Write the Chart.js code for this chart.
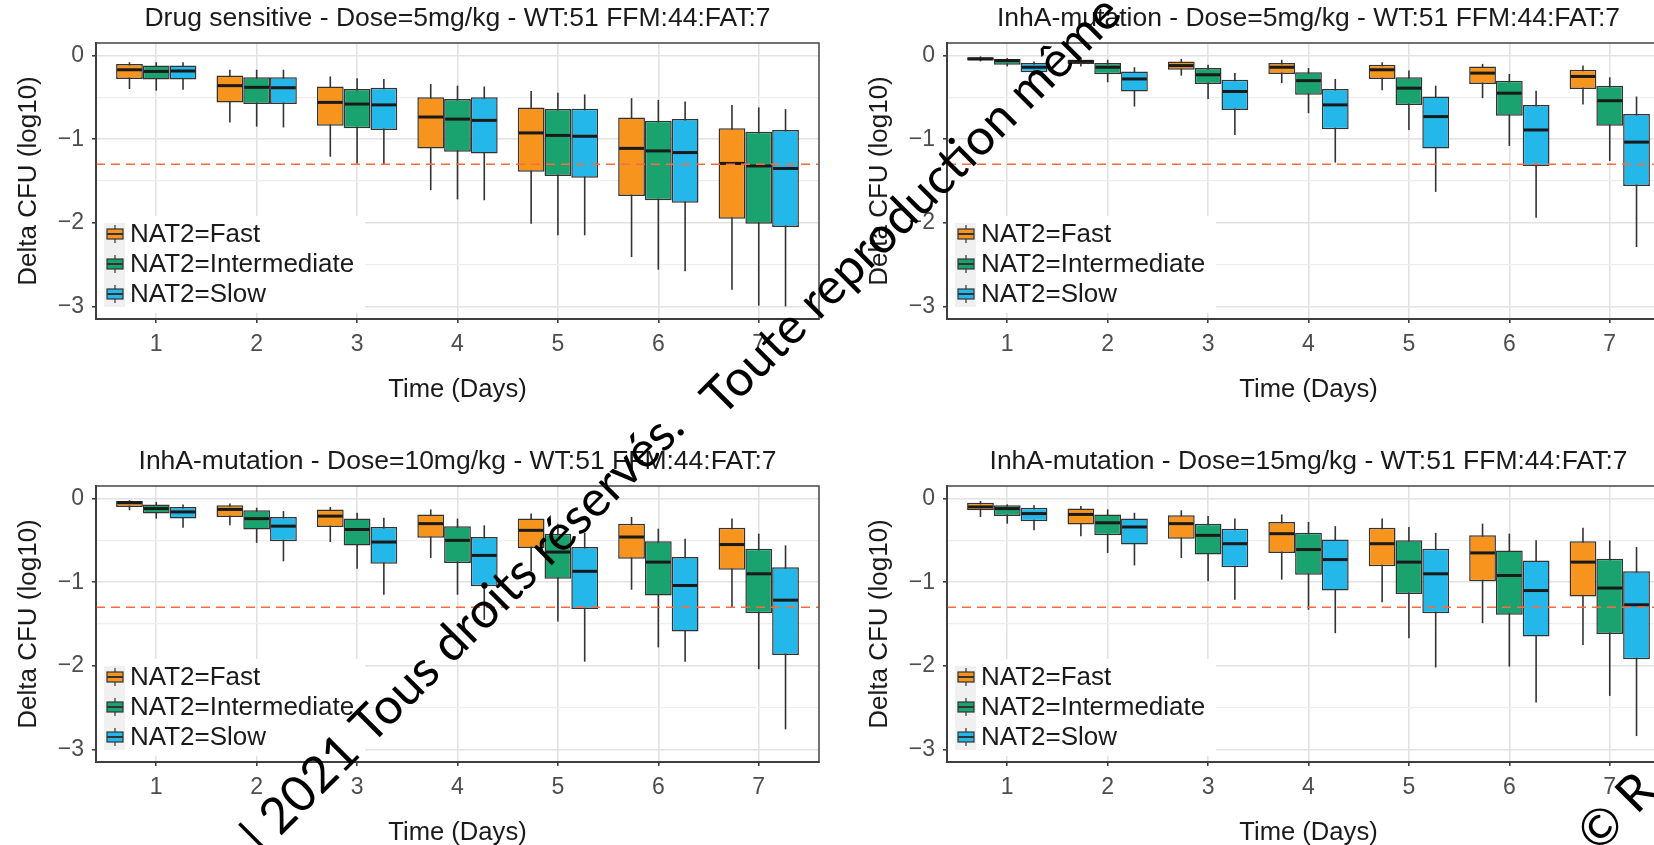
<!DOCTYPE html>
<html>
<head>
<meta charset="utf-8">
<script src="https://cdn.jsdelivr.net/npm/chart.js@4.4.0/dist/chart.umd.min.js"></script>
<style>
  body { margin: 0; background: #fff; width: 1654px; height: 845px; overflow: hidden; position: relative; }
  .panel { position: absolute; width: 845px; height: 420px; }
  #p1 { left: 0; top: 0; }
  #p2 { left: 851px; top: 0; }
  #p3 { left: 0; top: 443px; }
  #p4 { left: 851px; top: 443px; }
  #stamp { position: absolute; left: 0; top: 0; pointer-events: none; }
</style>
</head>
<body>
<canvas id="p1" class="panel" width="845" height="420"></canvas>
<canvas id="p2" class="panel" width="845" height="420"></canvas>
<canvas id="p3" class="panel" width="845" height="420"></canvas>
<canvas id="p4" class="panel" width="845" height="420"></canvas>
<canvas id="stamp" width="1654" height="845"></canvas>
<script>
const days = [1, 2, 3, 4, 5, 6, 7];
const groups = ['NAT2=Fast', 'NAT2=Intermediate', 'NAT2=Slow'];
const yTicks = [-3, -2.5, -2, -1.5, -1, -0.5, 0];
const cutoff = -1.3;
const titles = [
  'Drug sensitive - Dose=5mg/kg - WT:51 FFM:44:FAT:7',
  'InhA-mutation - Dose=5mg/kg - WT:51 FFM:44:FAT:7',
  'InhA-mutation - Dose=10mg/kg - WT:51 FFM:44:FAT:7',
  'InhA-mutation - Dose=15mg/kg - WT:51 FFM:44:FAT:7'
];

// each day: [lower whisker, Q1, median, Q3, upper whisker]
const sens5Fast  = [[-0.40,-0.28,-0.17,-0.10,-0.08], [-0.80,-0.56,-0.36,-0.24,-0.17], [-1.21,-0.84,-0.56,-0.37,-0.25], [-1.61,-1.11,-0.735,-0.50,-0.34], [-2.01,-1.39,-0.925,-0.62,-0.425], [-2.41,-1.68,-1.11,-0.74,-0.51], [-2.80,-1.95,-1.29,-0.87,-0.59]];
const sens5Inter = [[-0.42,-0.285,-0.19,-0.12,-0.08], [-0.85,-0.58,-0.38,-0.26,-0.17], [-1.29,-0.87,-0.58,-0.40,-0.27], [-1.72,-1.15,-0.76,-0.52,-0.36], [-2.15,-1.44,-0.955,-0.64,-0.445], [-2.56,-1.73,-1.14,-0.78,-0.53], [-2.99,-2.01,-1.32,-0.91,-0.62]];
const sens5Slow  = [[-0.41,-0.285,-0.185,-0.12,-0.08], [-0.86,-0.58,-0.385,-0.26,-0.17], [-1.30,-0.89,-0.59,-0.385,-0.28], [-1.73,-1.17,-0.775,-0.50,-0.37], [-2.15,-1.46,-0.965,-0.635,-0.465], [-2.58,-1.76,-1.16,-0.76,-0.55], [-3.00,-2.05,-1.35,-0.89,-0.64]];

const inh5Fast  = [[-0.07,-0.06,-0.04,-0.02,-0.01], [-0.13,-0.10,-0.07,-0.05,-0.03], [-0.24,-0.17,-0.12,-0.07,-0.04], [-0.33,-0.22,-0.14,-0.09,-0.05], [-0.415,-0.28,-0.17,-0.11,-0.08], [-0.51,-0.34,-0.21,-0.13,-0.10], [-0.585,-0.40,-0.25,-0.17,-0.12]];
const inh5Inter = [[-0.13,-0.11,-0.06,-0.04,-0.03], [-0.32,-0.225,-0.14,-0.09,-0.05], [-0.52,-0.34,-0.23,-0.15,-0.11], [-0.69,-0.47,-0.30,-0.20,-0.15], [-0.89,-0.59,-0.39,-0.26,-0.18], [-1.08,-0.72,-0.45,-0.30,-0.22], [-1.26,-0.84,-0.54,-0.36,-0.26]];
const inh5Slow  = [[-0.24,-0.20,-0.14,-0.09,-0.07], [-0.61,-0.43,-0.28,-0.19,-0.14], [-0.95,-0.65,-0.43,-0.29,-0.21], [-1.28,-0.88,-0.59,-0.40,-0.28], [-1.63,-1.11,-0.73,-0.49,-0.36], [-1.94,-1.32,-0.89,-0.59,-0.42], [-2.29,-1.56,-1.035,-0.70,-0.49]];

const inh10Fast  = [[-0.14,-0.10,-0.05,-0.03,-0.02], [-0.32,-0.22,-0.13,-0.08,-0.06], [-0.52,-0.34,-0.21,-0.13,-0.10], [-0.71,-0.47,-0.30,-0.19,-0.13], [-0.87,-0.59,-0.38,-0.24,-0.18], [-1.09,-0.72,-0.46,-0.30,-0.22], [-1.30,-0.85,-0.55,-0.35,-0.24]];
const inh10Inter = [[-0.24,-0.18,-0.12,-0.07,-0.04], [-0.53,-0.37,-0.24,-0.14,-0.11], [-0.84,-0.56,-0.37,-0.24,-0.17], [-1.15,-0.77,-0.50,-0.33,-0.24], [-1.47,-0.96,-0.64,-0.42,-0.30], [-1.78,-1.16,-0.76,-0.51,-0.36], [-2.04,-1.37,-0.90,-0.60,-0.42]];
const inh10Slow  = [[-0.35,-0.24,-0.16,-0.10,-0.07], [-0.75,-0.51,-0.33,-0.22,-0.15], [-1.15,-0.78,-0.52,-0.34,-0.23], [-1.45,-1.05,-0.68,-0.46,-0.32], [-1.95,-1.32,-0.87,-0.58,-0.41], [-1.95,-1.59,-1.04,-0.70,-0.48], [-2.76,-1.87,-1.215,-0.82,-0.56]];

const inh15Fast  = [[-0.22,-0.14,-0.10,-0.05,-0.03], [-0.45,-0.31,-0.19,-0.12,-0.09], [-0.71,-0.48,-0.30,-0.20,-0.14], [-0.97,-0.65,-0.42,-0.28,-0.19], [-1.24,-0.81,-0.54,-0.35,-0.24], [-1.49,-0.99,-0.65,-0.44,-0.30], [-1.75,-1.17,-0.76,-0.51,-0.35]];
const inh15Inter = [[-0.30,-0.21,-0.12,-0.08,-0.07], [-0.65,-0.44,-0.29,-0.19,-0.13], [-0.99,-0.67,-0.44,-0.30,-0.21], [-1.33,-0.91,-0.61,-0.41,-0.28], [-1.67,-1.14,-0.76,-0.50,-0.34], [-2.01,-1.39,-0.92,-0.62,-0.42], [-2.36,-1.62,-1.07,-0.72,-0.50]];
const inh15Slow  = [[-0.38,-0.27,-0.18,-0.11,-0.08], [-0.80,-0.55,-0.34,-0.24,-0.17], [-1.21,-0.82,-0.54,-0.36,-0.24], [-1.61,-1.10,-0.73,-0.49,-0.33], [-2.02,-1.37,-0.90,-0.60,-0.41], [-2.44,-1.65,-1.10,-0.74,-0.50], [-2.84,-1.92,-1.27,-0.87,-0.58]];

const FONT = '"Liberation Sans", Arial, Helvetica, sans-serif';
const fills = ['#F7941D', '#1BA36F', '#24B8EA'];
const minus = v => (v < 0 ? '\u2212' + (-v) : String(v));

// whiskers, medians, cut-off line, legend and frame drawn around the floating bars
const boxPlot = {
  id: 'boxPlot',
  beforeDatasetsDraw(chart) {
    const {ctx, scales: {y}} = chart;
    ctx.save();
    ctx.strokeStyle = '#333';
    ctx.lineWidth = 1.6;
    chart.data.datasets.forEach((ds, k) => {
      chart.getDatasetMeta(k).data.forEach((bar, i) => {
        const s = ds.stats[i];
        ctx.beginPath();
        ctx.moveTo(bar.x, y.getPixelForValue(s[0]));
        ctx.lineTo(bar.x, y.getPixelForValue(s[4]));
        ctx.stroke();
      });
    });
    ctx.restore();
  },
  afterDatasetsDraw(chart) {
    const {ctx, chartArea: a, scales: {y}} = chart;
    ctx.save();
    ctx.beginPath();
    ctx.rect(a.left, a.top, a.right - a.left, a.bottom - a.top);
    ctx.clip();

    // medians
    ctx.strokeStyle = '#1a1a1a';
    ctx.lineWidth = 3;
    chart.data.datasets.forEach((ds, k) => {
      chart.getDatasetMeta(k).data.forEach((bar, i) => {
        const py = y.getPixelForValue(ds.stats[i][2]);
        ctx.beginPath();
        ctx.moveTo(bar.x - bar.width / 2 + 1, py);
        ctx.lineTo(bar.x + bar.width / 2 - 1, py);
        ctx.stroke();
      });
    });

    // cut-off
    const cy = y.getPixelForValue(cutoff);
    ctx.strokeStyle = '#FF6A3D';
    ctx.lineWidth = 1.6;
    ctx.setLineDash([9, 6]);
    ctx.beginPath();
    ctx.moveTo(a.left, cy);
    ctx.lineTo(a.right, cy);
    ctx.stroke();
    ctx.setLineDash([]);

    // legend
    ctx.fillStyle = '#fff';
    ctx.fillRect(a.left + 1, a.bottom - 103, 268, 97);
    ctx.fillStyle = '#F0F0F0';
    ctx.fillRect(a.left + 8, a.bottom - 96, 21, 84);
    chart.data.datasets.forEach((ds, k) => {
      const ry = a.bottom - 85 + 30 * k;
      const kx = a.left + 11;
      ctx.strokeStyle = '#333';
      ctx.lineWidth = 1.2;
      ctx.beginPath();
      ctx.moveTo(kx + 8, ry - 9);
      ctx.lineTo(kx + 8, ry + 9);
      ctx.stroke();
      ctx.fillStyle = ds.backgroundColor;
      ctx.fillRect(kx, ry - 5, 16, 10);
      ctx.strokeRect(kx, ry - 5, 16, 10);
      ctx.lineWidth = 2;
      ctx.beginPath();
      ctx.moveTo(kx, ry);
      ctx.lineTo(kx + 16, ry);
      ctx.stroke();
      ctx.fillStyle = '#1a1a1a';
      ctx.font = '26px ' + FONT;
      ctx.textBaseline = 'middle';
      ctx.textAlign = 'left';
      ctx.fillText(ds.label, a.left + 34, ry + 1);
    });
    ctx.restore();

    // panel frame
    ctx.save();
    ctx.strokeStyle = '#444';
    ctx.lineWidth = 1.5;
    ctx.strokeRect(a.left, a.top, a.right - a.left, a.bottom - a.top);
    ctx.restore();
  }
};

function makePanel(id, title, series) {
  return new Chart(document.getElementById(id), {
    type: 'bar',
    data: {
      datasets: series.map((s, k) => ({
        label: groups[k],
        stats: s,
        data: days.map((d, i) => ({x: d, y: [s[i][1], s[i][3]]})),
        backgroundColor: fills[k],
        borderColor: '#333',
        borderWidth: 1.5,
        borderSkipped: false,
        categoryPercentage: 0.8,
        barPercentage: 1
      }))
    },
    options: {
      responsive: false,
      animation: false,
      events: [],
      layout: {padding: {left: 0, right: 26, top: 0, bottom: 0}},
      plugins: {
        legend: {display: false},
        tooltip: {enabled: false},
        title: {
          display: true,
          text: title,
          fullSize: false,
          color: '#1a1a1a',
          font: {family: FONT, size: 26.5, weight: 'normal'},
          padding: {top: 2.5, bottom: 8.7}
        }
      },
      scales: {
        x: {
          type: 'linear',
          min: 0.4,
          max: 7.6,
          offset: false,
          afterBuildTicks: ax => { ax.ticks = days.map(v => ({value: v})); },
          afterFit: ax => { ax.height = 101; },
          grid: {offset: false, color: '#E2E2E2', lineWidth: 1.6, tickLength: 4, tickColor: '#333', tickWidth: 1.5},
          border: {color: '#333', width: 2},
          ticks: {color: '#4D4D4D', font: {family: FONT, size: 23}, padding: 8, maxRotation: 0, autoSkip: false},
          title: {display: true, text: 'Time (Days)', color: '#1a1a1a', font: {family: FONT, size: 25.6}, padding: {top: 0, bottom: 14.5}}
        },
        y: {
          min: -3.15,
          max: 0.15,
          afterBuildTicks: ax => { ax.ticks = yTicks.map(v => ({value: v})); },
          afterFit: ax => { ax.width = 96; },
          grid: {
            color: c => (Number.isInteger(c.tick.value) ? '#E2E2E2' : '#EEEEEE'),
            lineWidth: c => (Number.isInteger(c.tick.value) ? 1.6 : 1.3),
            tickLength: 4,
            tickColor: c => (Number.isInteger(c.tick.value) ? '#333' : 'rgba(0,0,0,0)'),
            tickWidth: 1.5
          },
          border: {color: '#333', width: 2},
          ticks: {
            color: '#4D4D4D',
            font: {family: FONT, size: 23},
            padding: 8,
            callback: v => (Number.isInteger(v) ? minus(v) : '')
          },
          title: {display: true, text: 'Delta CFU (log10)', color: '#1a1a1a', font: {family: FONT, size: 26}, padding: {top: 13.4, bottom: 0}}
        }
      }
    },
    plugins: [boxPlot]
  });
}

makePanel('p1', titles[0], [sens5Fast, sens5Inter, sens5Slow]);
makePanel('p2', titles[1], [inh5Fast, inh5Inter, inh5Slow]);
makePanel('p3', titles[2], [inh10Fast, inh10Inter, inh10Slow]);
makePanel('p4', titles[3], [inh15Fast, inh15Inter, inh15Slow]);

// copyright stamp across the figure, in two runs along the same slant
const st = document.getElementById('stamp').getContext('2d');
st.fillStyle = '#000';
st.font = '50px Lato, "Open Sans", sans-serif';
st.textBaseline = 'alphabetic';
[
  ['| 2021 Tous droits réservés.', 262, 855],
  ['Toute reproduction même', 722, 418],
  ['\u00A9 R', 1598, 854]
].forEach(([txt, x, y]) => {
  st.save();
  st.translate(x, y);
  st.rotate(-45 * Math.PI / 180);
  st.fillText(txt, 0, 0);
  st.restore();
});
</script>
</body>
</html>
